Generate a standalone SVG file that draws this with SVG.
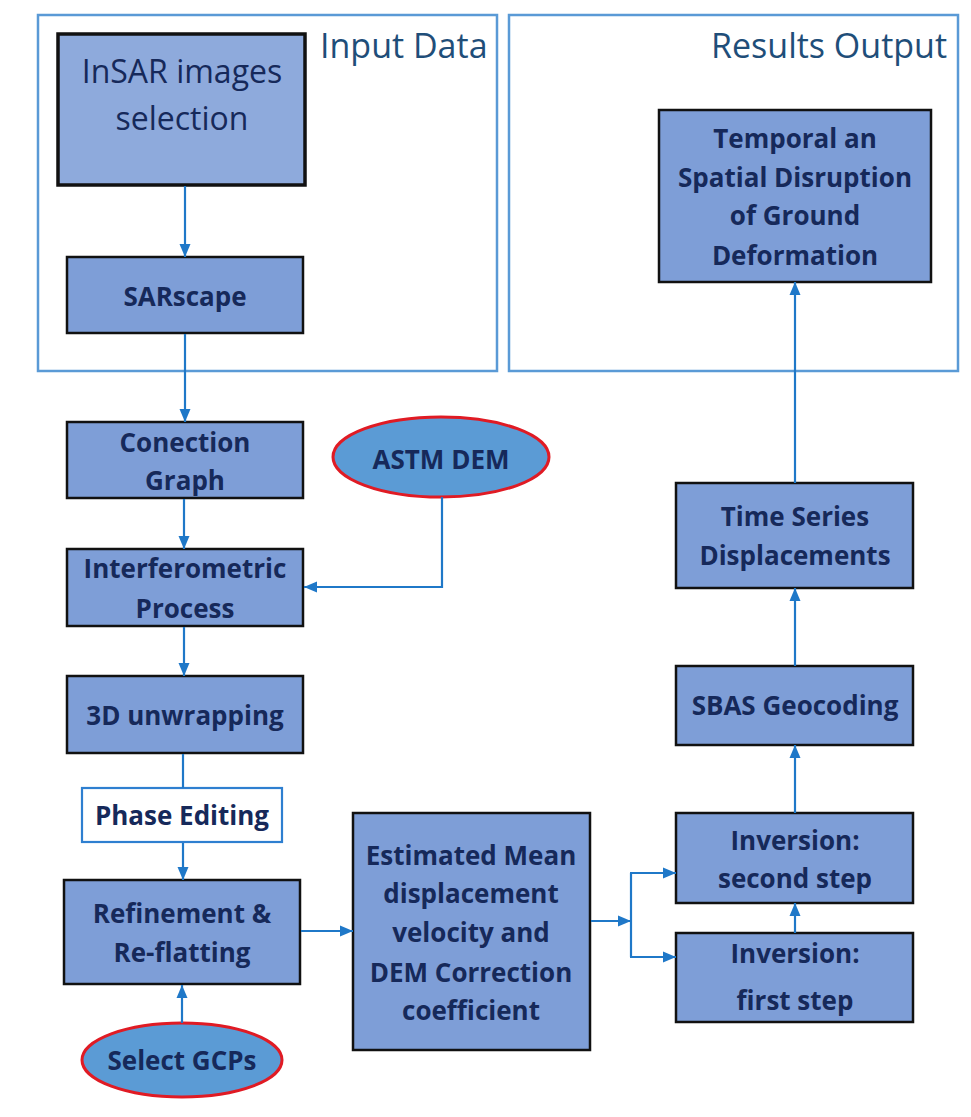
<svg xmlns="http://www.w3.org/2000/svg" width="971" height="1117" viewBox="0 0 971 1117">
<defs>
<marker id="arr" markerUnits="userSpaceOnUse" markerWidth="14" markerHeight="14" viewBox="0 0 14 14" refX="13" refY="7" orient="auto">
<path d="M0,1.5 L13,7 L0,12.5 Z" fill="#1f78c8"/>
</marker>
<style>
.cont{fill:none;stroke:#5a9ad6;stroke-width:2.5}
.title{font-family:"Open Sans","Liberation Sans",sans-serif;font-size:34px;fill:#1f4e79}
.box{fill:#7e9ed7;stroke:#111;stroke-width:2.5}
.lbl{font-family:"Open Sans","Liberation Sans",sans-serif;font-size:26px;font-weight:bold;fill:#16295a;text-anchor:middle;dominant-baseline:central}
.ell{fill:#5b9bd5;stroke:#e01b24;stroke-width:3}
.conn path{fill:none;stroke:#1f78c8;stroke-width:2.2}
</style>
</defs>
<rect width="971" height="1117" fill="#fff"/>

<g id="input-data">
<rect class="cont" x="38" y="15" width="459" height="356"/>
<text class="title" x="320" y="58">Input Data</text>
</g>
<g id="results-output">
<rect class="cont" x="509" y="15" width="449" height="356"/>
<text class="title" x="711" y="58">Results Output</text>
</g>

<g id="insar">
<rect x="58" y="34" width="247" height="151" fill="#8eaadc" stroke="#111" stroke-width="3.5"/>
<text class="lbl" x="182" y="70" style="font-weight:normal;font-size:32px">InSAR images</text>
<text class="lbl" x="182" y="117" style="font-weight:normal;font-size:32px">selection</text>
</g>
<g id="sarscape">
<rect class="box" x="67" y="257" width="236" height="76"/>
<text class="lbl" x="185" y="296">SARscape</text>
</g>
<g id="conection-graph">
<rect class="box" x="67" y="422" width="236" height="76"/>
<text class="lbl" x="185" y="442">Conection</text>
<text class="lbl" x="185" y="480">Graph</text>
</g>
<g id="astm-dem">
<ellipse class="ell" cx="441" cy="457" rx="108" ry="40"/>
<text class="lbl" x="441" y="459">ASTM DEM</text>
</g>
<g id="interferometric">
<rect class="box" x="67" y="549" width="236" height="77"/>
<text class="lbl" x="185" y="568">Interferometric</text>
<text class="lbl" x="185" y="608">Process</text>
</g>
<g id="unwrapping">
<rect class="box" x="67" y="676" width="236" height="77"/>
<text class="lbl" x="185" y="715">3D unwrapping</text>
</g>
<g id="phase-editing">
<rect x="82" y="788" width="200" height="54" fill="#fff" stroke="#2e7fd0" stroke-width="2.2"/>
<text class="lbl" x="182" y="815">Phase Editing</text>
</g>
<g id="refinement">
<rect class="box" x="64" y="880" width="236" height="104"/>
<text class="lbl" x="182" y="913">Refinement &amp;</text>
<text class="lbl" x="182" y="952">Re-flatting</text>
</g>
<g id="select-gcps">
<ellipse class="ell" cx="182" cy="1060" rx="100" ry="37"/>
<text class="lbl" x="182" y="1060">Select GCPs</text>
</g>
<g id="estimated">
<rect class="box" x="353" y="813" width="237" height="237"/>
<text class="lbl" x="471" y="855">Estimated Mean</text>
<text class="lbl" x="471" y="893">displacement</text>
<text class="lbl" x="471" y="932">velocity and</text>
<text class="lbl" x="471" y="972">DEM Correction</text>
<text class="lbl" x="471" y="1010">coefficient</text>
</g>
<g id="inversion-second">
<rect class="box" x="676" y="813" width="237" height="90"/>
<text class="lbl" x="795" y="840">Inversion:</text>
<text class="lbl" x="795" y="878">second step</text>
</g>
<g id="inversion-first">
<rect class="box" x="676" y="933" width="237" height="89"/>
<text class="lbl" x="795" y="953">Inversion:</text>
<text class="lbl" x="795" y="1000">first step</text>
</g>
<g id="sbas">
<rect class="box" x="676" y="666" width="237" height="79"/>
<text class="lbl" x="795" y="705">SBAS Geocoding</text>
</g>
<g id="time-series">
<rect class="box" x="676" y="483" width="237" height="105"/>
<text class="lbl" x="795" y="516">Time Series</text>
<text class="lbl" x="795" y="555">Displacements</text>
</g>
<g id="temporal">
<rect class="box" x="659" y="110" width="272" height="172"/>
<text class="lbl" x="795" y="138">Temporal an</text>
<text class="lbl" x="795" y="177">Spatial Disruption</text>
<text class="lbl" x="795" y="215">of Ground</text>
<text class="lbl" x="795" y="255">Deformation</text>
</g>

<g id="connectors" class="conn">
<path d="M185 186 V257" marker-end="url(#arr)"/>
<path d="M185 334 V422" marker-end="url(#arr)"/>
<path d="M184 499 V549" marker-end="url(#arr)"/>
<path d="M442 497 V587 H304" marker-end="url(#arr)"/>
<path d="M184 627 V676" marker-end="url(#arr)"/>
<path d="M183 754 V788"/>
<path d="M183 843 V880" marker-end="url(#arr)"/>
<path d="M182 1023 V985" marker-end="url(#arr)"/>
<path d="M301 931 H353" marker-end="url(#arr)"/>
<path d="M591 921 H631" marker-end="url(#arr)"/>
<path d="M631 873 V957"/>
<path d="M630 873 H676" marker-end="url(#arr)"/>
<path d="M630 957 H676" marker-end="url(#arr)"/>
<path d="M795 933 V903" marker-end="url(#arr)"/>
<path d="M795 813 V745" marker-end="url(#arr)"/>
<path d="M795 666 V588" marker-end="url(#arr)"/>
<path d="M795 483 V282" marker-end="url(#arr)"/>
</g>
</svg>
